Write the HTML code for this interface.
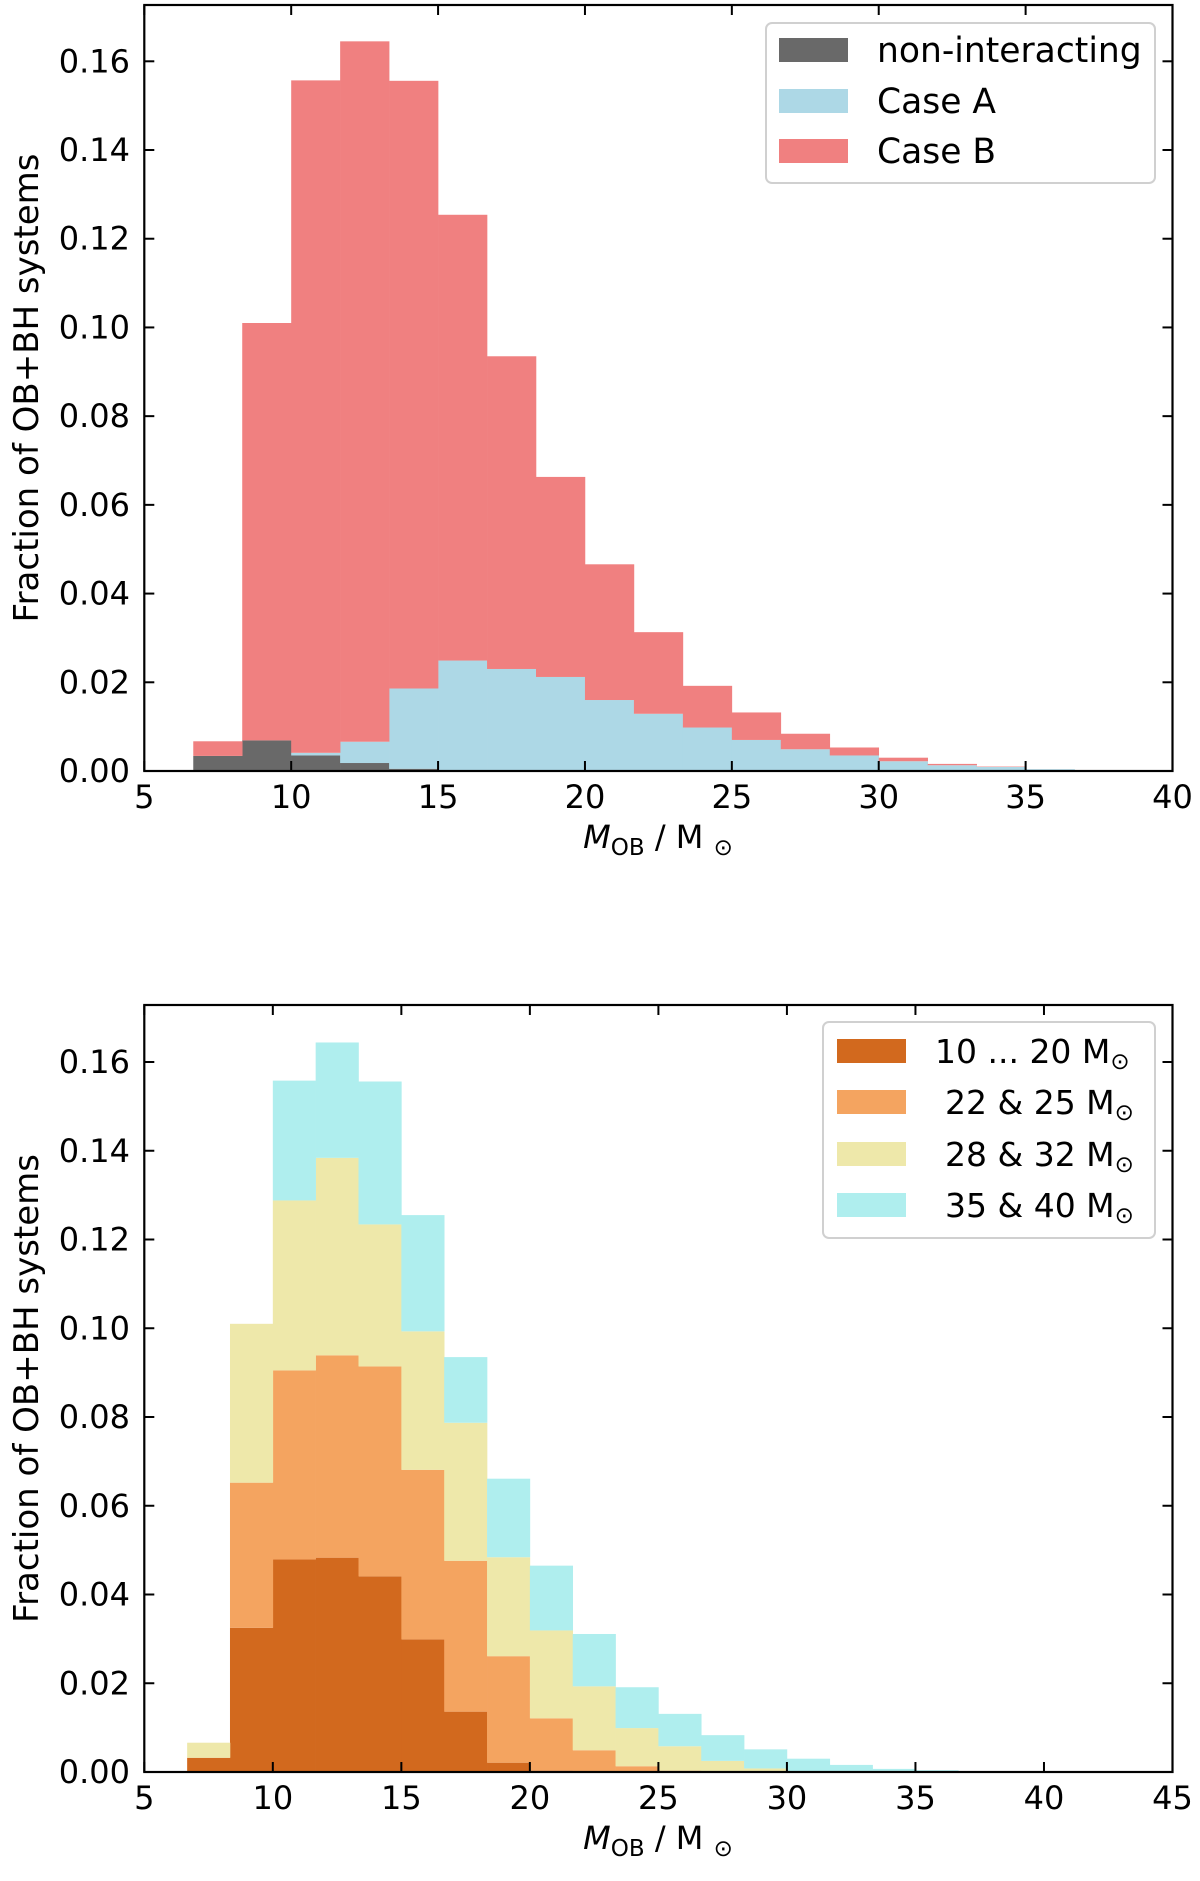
<!DOCTYPE html>
<html><head><meta charset="utf-8">
<style>
html,body{margin:0;padding:0;background:#fff;}
svg{display:block;font-family:"DejaVu Sans","Liberation Sans",sans-serif;}
</style></head>
<body>
<svg id="fig" width="1200" height="1881" viewBox="0 0 1200 1881" xmlns="http://www.w3.org/2000/svg"></svg>
<script>
// shared bin edges (M_OB in solar masses)
const binStart = 20/3;
const binWidth = 5/3;
// top panel data (stacked contributions)
const topNonInteracting = [0.0034,0.0069,0.0035,0.0018,0.0005,0,0,0,0,0,0,0,0,0,0,0,0,0];
const topCaseA = [0,0,0.0006,0.0048,0.0181,0.0249,0.0230,0.0212,0.0160,0.0129,0.0098,0.0070,0.0049,0.0035,0.0022,0.0013,0.0009,0.0004];
const topCaseB = [0.0033,0.0941,0.1516,0.1579,0.1370,0.1005,0.0705,0.0451,0.0306,0.0184,0.0094,0.0062,0.0035,0.0018,0.0008,0.0003,0.0001,0];
// bottom panel data (stacked contributions)
const botM10to20 = [0.0032,0.0325,0.0479,0.0483,0.0441,0.0299,0.0136,0.0021,0.0003,0,0,0,0,0,0,0,0,0];
const botM22to25 = [0,0.0327,0.0426,0.0456,0.0473,0.0382,0.0340,0.0240,0.0118,0.0049,0.0013,0.0003,0,0,0,0,0,0];
const botM28to32 = [0.0034,0.0358,0.0383,0.0445,0.0320,0.0312,0.0311,0.0223,0.0198,0.0144,0.0086,0.0055,0.0025,0.0008,0.0001,0,0,0];
const botM35to40 = [0,0,0.0270,0.0260,0.0322,0.0262,0.0148,0.0177,0.0146,0.0118,0.0092,0.0073,0.0058,0.0043,0.0029,0.0016,0.0007,0.0004];
const yTicks = [0,0.02,0.04,0.06,0.08,0.10,0.12,0.14,0.16];
const xTicksTop = [5,10,15,20,25,30,35,40];
const xTicksBot = [5,10,15,20,25,30,35,40,45];

const NS="http://www.w3.org/2000/svg";
const fig=document.getElementById('fig');
function mk(tag,attrs,parent){const e=document.createElementNS(NS,tag);for(const k in attrs)e.setAttribute(k,attrs[k]);(parent||fig).appendChild(e);return e;}

function panel(cfg){
  const g=mk('g',{});
  
  
  const L=144.3,R=1172.5,T=cfg.top,B=cfg.bottom;
  const xs=v=>L+(v-cfg.xmin)/(cfg.xmax-cfg.xmin)*(R-L);
  const ys=v=>B-v/0.16*(B-cfg.y016);
  const n=cfg.series[0].values.length;
  const cum=new Array(n).fill(0);
  cfg.series.forEach(s=>{
    for(let i=0;i<n;i++){
      const v=s.values[i];
      if(v>0){
        const x0=xs(binStart+i*binWidth),x1=xs(binStart+(i+1)*binWidth);
        const r=mk('rect',{x:x0,y:ys(cum[i]+v),width:x1-x0+0.3,height:ys(cum[i])-ys(cum[i]+v),fill:s.color},g);
        
        
      }
      cum[i]+=v;
    }
  });
  const f=mk('rect',{x:L,y:T,width:R-L,height:B-T,fill:'none',stroke:'#000','stroke-width':2.2},g);
  
  
  yTicks.forEach(t=>{
    const y=ys(t);
    mk('line',{x1:L,x2:L+10,y1:y,y2:y,stroke:'#000','stroke-width':2},g);
    mk('line',{x1:R,x2:R-10,y1:y,y2:y,stroke:'#000','stroke-width':2},g);
    const tx=mk('text',{x:130,y:y+11,'font-size':32,'text-anchor':'end'},g);
    tx.textContent=t.toFixed(2);
    
    
  });
  cfg.xticks.forEach(t=>{
    const x=xs(t);
    mk('line',{x1:x,x2:x,y1:B,y2:B-10,stroke:'#000','stroke-width':2},g);
    mk('line',{x1:x,x2:x,y1:T,y2:T+10,stroke:'#000','stroke-width':2},g);
    const tx=mk('text',{x:x,y:B+37,'font-size':32,'text-anchor':'middle'},g);
    tx.textContent=t;
    
    
  });
  const xl=mk('text',{x:658,y:B+77,'font-size':32,'text-anchor':'middle'},g);
  xl.innerHTML='<tspan font-style="italic">M</tspan><tspan font-size="23" dy="7">OB</tspan><tspan dy="-7"> / M </tspan><tspan font-size="23" dy="7">⊙</tspan>';
  
  
  const cy=(T+B)/2;
  const yl=mk('text',{x:38,y:cy,'font-size':34,'text-anchor':'middle',transform:'rotate(-90 38 '+cy+')'},g);
  yl.textContent='Fraction of OB+BH systems';
  
  
  const lg=mk('g',{},g);
  
  
  const lb=cfg.legend;
  mk('rect',{x:lb.x,y:lb.y,width:lb.w,height:lb.h,rx:6,fill:'#fff','fill-opacity':0.85,stroke:'#d0d0d0','stroke-width':2},lg);
  cfg.series.forEach((s,i)=>{
    const cyy=lb.rows[i];
    const e=mk('g',{},lg);
    
    
    mk('rect',{x:lb.sx,y:cyy-12,width:69,height:24,fill:s.color},e);
    const t=mk('text',{x:lb.tx[i],y:cyy+12,'font-size':lb.fs},e);
    t.innerHTML=s.label;
  });
}

panel({name:'top-panel',top:5,bottom:771,y016:61.3,xmin:5,xmax:40,xticks:xTicksTop,
  series:[{key:'non-interacting',values:topNonInteracting,color:'#696969',label:'non-interacting'},
          {key:'case-a',values:topCaseA,color:'#add8e6',label:'Case A'},
          {key:'case-b',values:topCaseB,color:'#f08080',label:'Case B'}],
  legend:{x:766,y:23,w:389,h:160,sx:779,rows:[50,101,151],tx:[877,877,877],fs:34.5}});

panel({name:'bottom-panel',top:1005,bottom:1772,y016:1062,xmin:5,xmax:45,xticks:xTicksBot,
  series:[{key:'m10-20',values:botM10to20,color:'#d2691e',label:'10 ... 20 M<tspan font-size="23" dy="6">⊙</tspan>'},
          {key:'m22-25',values:botM22to25,color:'#f4a460',label:'22 &amp; 25 M<tspan font-size="23" dy="6">⊙</tspan>'},
          {key:'m28-32',values:botM28to32,color:'#eee8aa',label:'28 &amp; 32 M<tspan font-size="23" dy="6">⊙</tspan>'},
          {key:'m35-40',values:botM35to40,color:'#afeeee',label:'35 &amp; 40 M<tspan font-size="23" dy="6">⊙</tspan>'}],
  legend:{x:823,y:1022,w:332,h:216,sx:837,rows:[1051,1102,1154,1205],tx:[935,945,945,945],fs:33}});
</script>
</body></html>
